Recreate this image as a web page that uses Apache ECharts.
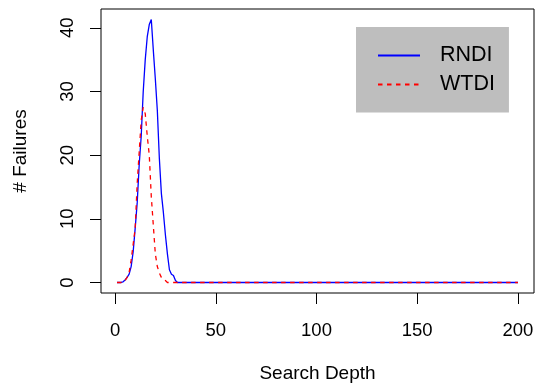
<!DOCTYPE html>
<html>
<head>
<meta charset="utf-8">
<script src="https://cdn.jsdelivr.net/npm/echarts@6/dist/echarts.min.js"></script>
<style>
  html, body { margin: 0; padding: 0; background: #fff; }
  #chart { width: 535px; height: 383px; }
</style>
</head>
<body>
<div id="chart"></div>
<script>
// Search depth 1..200
const depths = [];
for (let d = 1; d <= 200; d++) depths.push(d);

// Number of failures at each search depth
const rndi = [
  0, 0, 0, 0.1, 0.4, 0.8, 1.3, 2.5, 4.8, 8.5,
  12.5, 18.5, 23, 30, 35, 38.6, 40.5, 41.3, 36.5, 32,
  27, 19.5, 14, 11, 7.5, 4.5, 2, 1.3, 1.1, 0.3,
  0, 0, 0, 0, 0, 0, 0, 0, 0, 0,
  0, 0, 0, 0, 0, 0, 0, 0, 0, 0, 0, 0, 0, 0, 0, 0, 0, 0, 0, 0,
  0, 0, 0, 0, 0, 0, 0, 0, 0, 0, 0, 0, 0, 0, 0, 0, 0, 0, 0, 0,
  0, 0, 0, 0, 0, 0, 0, 0, 0, 0, 0, 0, 0, 0, 0, 0, 0, 0, 0, 0,
  0, 0, 0, 0, 0, 0, 0, 0, 0, 0, 0, 0, 0, 0, 0, 0, 0, 0, 0, 0,
  0, 0, 0, 0, 0, 0, 0, 0, 0, 0, 0, 0, 0, 0, 0, 0, 0, 0, 0, 0,
  0, 0, 0, 0, 0, 0, 0, 0, 0, 0, 0, 0, 0, 0, 0, 0, 0, 0, 0, 0,
  0, 0, 0, 0, 0, 0, 0, 0, 0, 0, 0, 0, 0, 0, 0, 0, 0, 0, 0, 0,
  0, 0, 0, 0, 0, 0, 0, 0, 0, 0, 0, 0, 0, 0, 0, 0, 0, 0, 0, 0
];
const wtdi = [
  0, 0, 0, 0, 0.3, 0.8, 1.6, 3.5, 6, 8.5,
  15.5, 20.5, 25.5, 27.5, 26.5, 23, 20, 13.5, 9, 4.5,
  2.5, 1.5, 0.8, 0.5, 0.3, 0, 0, 0, 0, 0,
  0, 0, 0, 0, 0, 0, 0, 0, 0, 0,
  0, 0, 0, 0, 0, 0, 0, 0, 0, 0, 0, 0, 0, 0, 0, 0, 0, 0, 0, 0,
  0, 0, 0, 0, 0, 0, 0, 0, 0, 0, 0, 0, 0, 0, 0, 0, 0, 0, 0, 0,
  0, 0, 0, 0, 0, 0, 0, 0, 0, 0, 0, 0, 0, 0, 0, 0, 0, 0, 0, 0,
  0, 0, 0, 0, 0, 0, 0, 0, 0, 0, 0, 0, 0, 0, 0, 0, 0, 0, 0, 0,
  0, 0, 0, 0, 0, 0, 0, 0, 0, 0, 0, 0, 0, 0, 0, 0, 0, 0, 0, 0,
  0, 0, 0, 0, 0, 0, 0, 0, 0, 0, 0, 0, 0, 0, 0, 0, 0, 0, 0, 0,
  0, 0, 0, 0, 0, 0, 0, 0, 0, 0, 0, 0, 0, 0, 0, 0, 0, 0, 0, 0,
  0, 0, 0, 0, 0, 0, 0, 0, 0, 0, 0, 0, 0, 0, 0, 0, 0, 0, 0, 0
];

const xTicks = [0, 50, 100, 150, 200];
const yTicks = [0, 10, 20, 30, 40];

const FONT = '"Liberation Sans", Arial, Helvetica, sans-serif';

// Axis ranges padded 4% beyond the data, as in classic plots
const xMin = 1 - 0.04 * 199, xMax = 200 + 0.04 * 199;
const yMin = -0.04 * 41.3, yMax = 41.3 * 1.04;

const pair = (vals) => depths.map((d, i) => [d, vals[i]]);

const chart = echarts.init(document.getElementById('chart'), null, { renderer: 'canvas' });
chart.setOption({
  animation: false,
  backgroundColor: '#ffffff',
  grid: {
    left: 101, right: 1, top: 9, bottom: 90,
    outerBoundsMode: 'none', containLabel: false,
    show: true, borderColor: '#000', borderWidth: 1, backgroundColor: 'transparent'
  },
  xAxis: {
    type: 'value', min: xMin, max: xMax,
    name: 'Search Depth', nameLocation: 'middle', nameGap: 71,
    nameTextStyle: { fontFamily: FONT, fontSize: 19, color: '#000' },
    axisLine: { show: false, onZero: false },
    splitLine: { show: false },
    axisTick: { show: true, inside: false, length: 11, customValues: xTicks, lineStyle: { color: '#000', width: 1 } },
    axisLabel: { customValues: xTicks, margin: 28, fontFamily: FONT, fontSize: 18.5, color: '#000' }
  },
  yAxis: {
    type: 'value', min: yMin, max: yMax,
    name: '# Failures', nameLocation: 'middle', nameGap: 71, nameRotate: 90,
    nameTextStyle: { fontFamily: FONT, fontSize: 19, color: '#000' },
    axisLine: { show: false, onZero: false },
    splitLine: { show: false },
    axisTick: { show: true, inside: false, length: 11, customValues: yTicks, lineStyle: { color: '#000', width: 1 } },
    axisLabel: { customValues: yTicks, rotate: 90, margin: 24, fontFamily: FONT, fontSize: 18.5, color: '#000' }
  },
  legend: {
    orient: 'vertical', left: 356, top: 27,
    backgroundColor: '#bebebe', borderWidth: 0,
    padding: [17.5, 14, 17, 21],
    itemWidth: 42, itemHeight: 14, itemGap: 7,
    itemStyle: { opacity: 0 },
    textStyle: { fontFamily: FONT, fontSize: 21.5, color: '#000', lineHeight: 20, padding: [0, 0, 0, 15] },
    data: ['RNDI', 'WTDI']
  },
  series: [
    {
      name: 'RNDI', type: 'line', data: pair(rndi),
      symbol: 'none', silent: true,
      lineStyle: { color: '#0000ff', width: 1.3 },
      itemStyle: { color: '#0000ff' }
    },
    {
      name: 'WTDI', type: 'line', data: pair(wtdi),
      symbol: 'none', silent: true,
      lineStyle: { color: '#ff0000', width: 1.3, type: [4.5, 4.5] },
      itemStyle: { color: '#ff0000' }
    }
  ]
});
</script>
</body>
</html>
